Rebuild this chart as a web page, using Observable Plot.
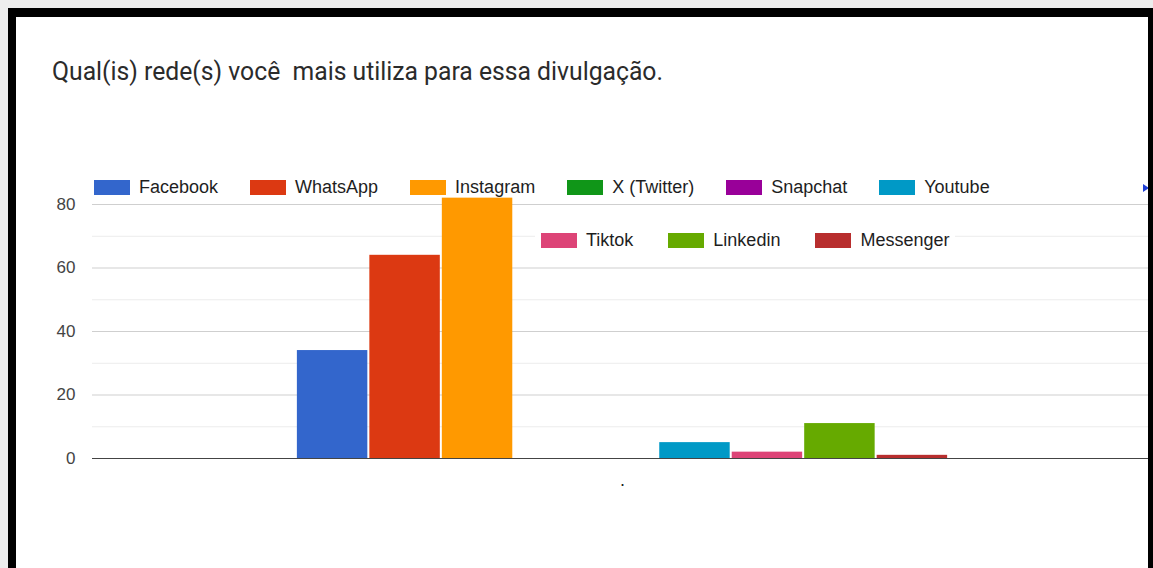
<!DOCTYPE html>
<html>
<head>
<meta charset="utf-8">
<script src="https://cdn.jsdelivr.net/npm/d3@7"></script>
<script src="https://cdn.jsdelivr.net/npm/@observablehq/plot@0.6"></script>
<style>
  html, body { margin: 0; padding: 0; background: #ededed; }
  #page { position: relative; width: 1153px; height: 568px; overflow: hidden; background: #ededed; }
  #card { position: absolute; left: 8px; top: 8px; width: 1145px; height: 560px; background: #fff; }
  #chart { position: absolute; left: 0; top: 0; }
  .bl { position: absolute; background: #000; }
  #title { position: absolute; left: 52px; top: 58px; font-family: Roboto, "Open Sans", sans-serif; font-size: 26px; line-height: 26px; color: #2b2b2b; white-space: pre; transform-origin: 0 0; }
  .legend { position: absolute; display: flex; font-family: "Liberation Sans", Arial, sans-serif; font-size: 18px; color: #1e1e1e; }
  .legend .item { display: flex; align-items: flex-start; line-height: 15px; white-space: pre; }
  .legend .sw { width: 36px; height: 15px; margin-right: 9px; }
  #legend1 { left: 94px; top: 180px; gap: 32px; }
  #legend2 { left: 535px; top: 226px; gap: 35px; background: #fff; padding: 7px 6px 6px 6px; }
  #arrow { position: absolute; left: 1143px; top: 184px; width: 0; height: 0; border-top: 4px solid transparent; border-bottom: 4px solid transparent; border-left: 6px solid #1f3fd6; }
</style>
</head>
<body>
<div id="page">
  <div id="card"></div>
  <div id="chart"></div>
  <div id="title"></div>
  <div id="legend1" class="legend"></div>
  <div id="legend2" class="legend"></div>
  <div id="arrow"></div>
  <div class="bl" style="left:8px;top:8px;width:1145px;height:9px;"></div>
  <div class="bl" style="left:8px;top:8px;width:8px;height:560px;"></div>
  <div class="bl" style="left:1148px;top:8px;width:5px;height:560px;"></div>
</div>
<script>
const titleText = "Qual(is) rede(s) você  mais utiliza para essa divulgação.";
const networks = ["Facebook", "WhatsApp", "Instagram", "X (Twitter)", "Snapchat", "Youtube", "Tiktok", "Linkedin", "Messenger"];
const counts = [34, 64, 82, 0, 0, 5, 2, 11, 1];
const colors = ["#3366cc", "#dc3912", "#ff9900", "#109618", "#990099", "#0099c6", "#dd4477", "#66aa00", "#b82e2e"];
const categoryLabel = ".";
const majorTicks = [0, 20, 40, 60, 80];
const minorTicks = [10, 30, 50, 70];
const legendRow1 = networks.slice(0, 6);
const legendRow2 = networks.slice(6);

const data = networks.map((n, i) => ({name: n, value: counts[i]}));

const chart = Plot.plot({
  width: 1153,
  height: 568,
  marginLeft: 92,
  marginRight: 1,
  marginTop: 204,
  marginBottom: 110,
  style: {background: "transparent", fontFamily: "'Liberation Sans', Arial, sans-serif"},
  x: {domain: networks, paddingInner: 0.014, paddingOuter: 2.82, round: false, axis: null},
  y: {domain: [0, 80], clamp: false},
  color: {domain: networks, range: colors},
  marks: [
    Plot.gridY(minorTicks, {stroke: "#ececec", strokeOpacity: 1}),
    Plot.gridY(majorTicks.slice(1), {stroke: "#cfcfcf", strokeOpacity: 1}),
    Plot.barY(data, {x: "name", y: "value", fill: "name", insetLeft: 0.5, insetRight: 0.5}),
    Plot.ruleY([0], {stroke: "#444", strokeWidth: 1.2}),
    Plot.axisY(majorTicks, {tickSize: 0, tickPadding: 17, fontSize: 17, color: "#444", label: null}),
    Plot.text([categoryLabel], {frameAnchor: "bottom", dy: 27, fontSize: 18, fill: "#222"})
  ]
});
document.getElementById("chart").appendChild(chart);

const t = document.getElementById("title");
t.textContent = titleText;
const w = t.getBoundingClientRect().width;
t.style.transform = `scaleX(${611 / w})`;

function buildLegend(el, names) {
  for (const n of names) {
    const item = document.createElement("div");
    item.className = "item";
    const sw = document.createElement("div");
    sw.className = "sw";
    sw.style.background = colors[networks.indexOf(n)];
    const lab = document.createElement("span");
    lab.textContent = n;
    item.appendChild(sw);
    item.appendChild(lab);
    el.appendChild(item);
  }
}
buildLegend(document.getElementById("legend1"), legendRow1);
buildLegend(document.getElementById("legend2"), legendRow2);
</script>
</body>
</html>
